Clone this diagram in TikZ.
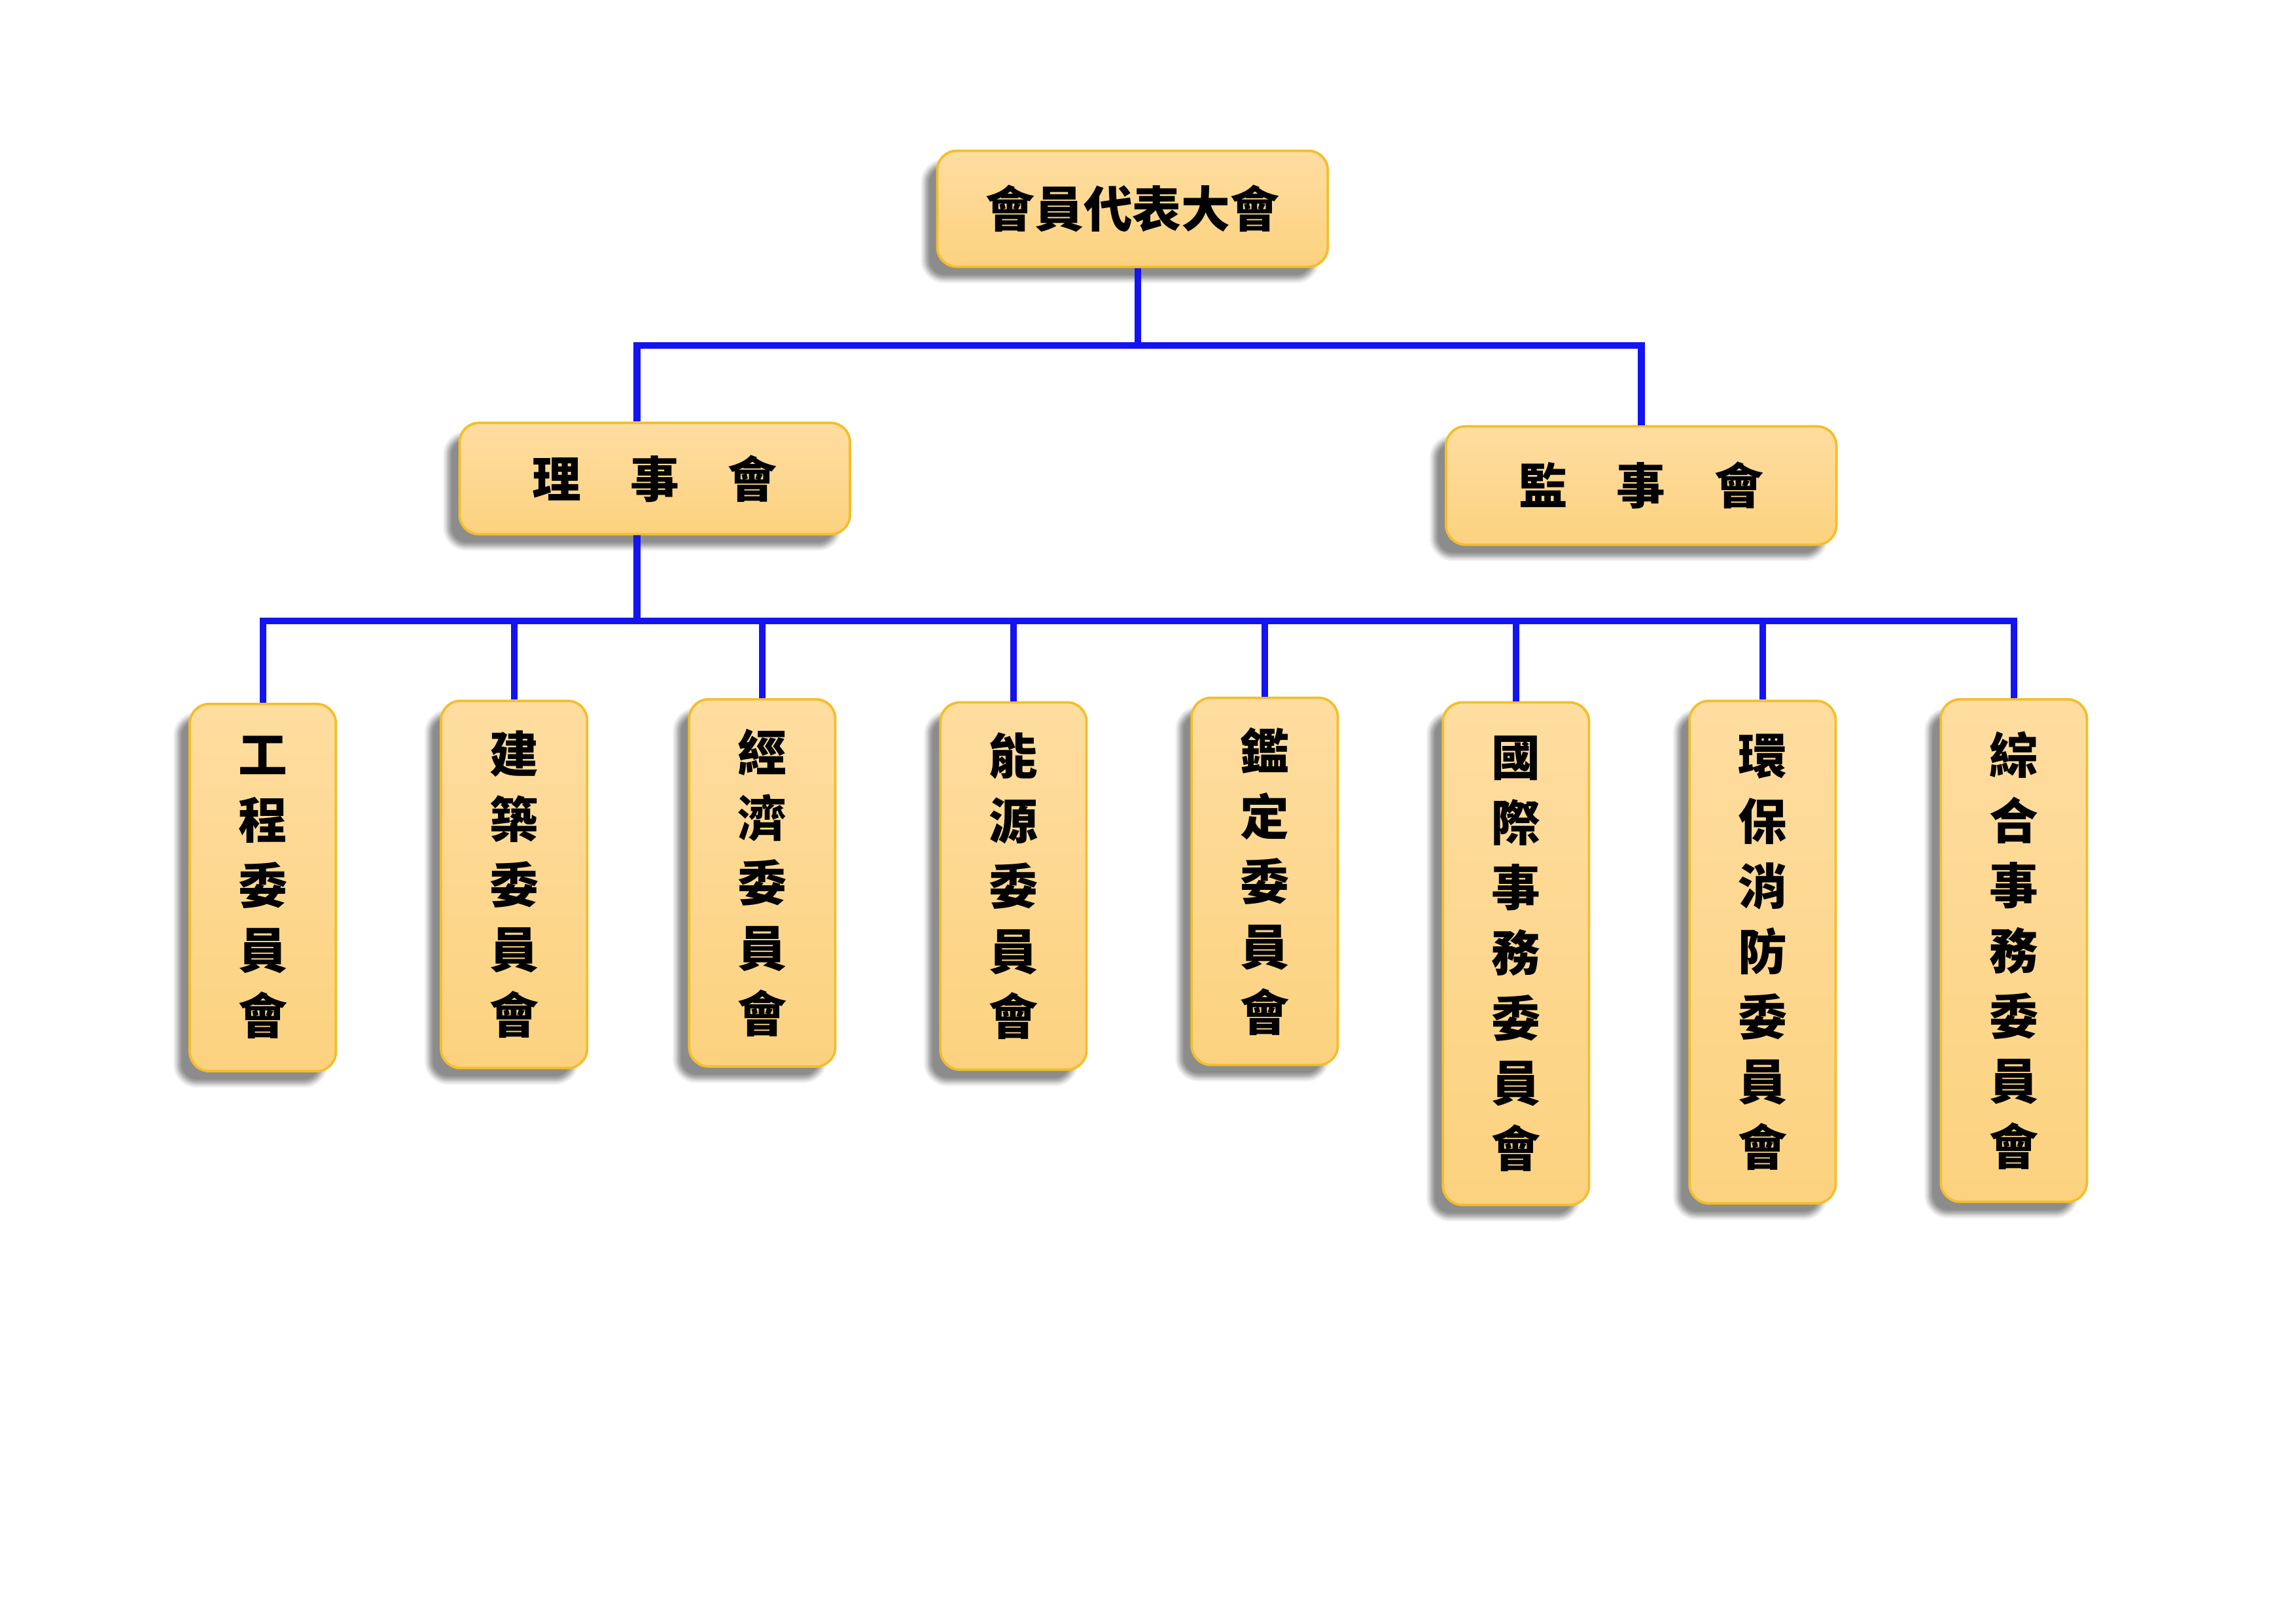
\documentclass[tikz,border=0pt]{standalone}
\usepackage{fontspec}
\newfontfamily\cjk{Noto Sans CJK TC}
\usetikzlibrary{shadows.blur}
\definecolor{boxtop}{HTML}{FEDDA0}
\definecolor{boxbot}{HTML}{FCD27F}
\definecolor{boxline}{HTML}{F4BE2A}
\definecolor{linkblue}{HTML}{1414F0}
\begin{document}
\begin{tikzpicture}[
    unit/.style={draw=boxline, line width=0.9pt, rounded corners=0.25cm,
      top color=boxtop, bottom color=boxbot, inner sep=0pt,
      blur shadow={shadow xshift=-1.6mm, shadow yshift=-1.6mm, shadow blur steps=6, shadow opacity=45},
      font=\cjk\bfseries\fontsize{18}{24}\selectfont},
    wide/.style={unit, minimum width=5.05cm, minimum height=1.5cm},
    tall/.style={unit, anchor=north, minimum width=1.89cm, align=center},
    link/.style={draw=linkblue, line width=2.5pt}]
  \useasboundingbox (0,0) rectangle (29.7,-21);
  % top levels
  \node[wide] (dahui) at (14.65,-2.70) {會員代表大會};
  \node[wide, minimum height=1.44cm] (lishi) at (8.47,-6.19) {理　事　會};
  \node[wide, minimum height=1.53cm] (jianshi) at (21.23,-6.28) {監　事　會};

  % committees
  \node[tall, minimum height=4.75cm] (c1) at (3.40,-9.09) {工\\程\\委\\員\\會};
  \node[tall, minimum height=4.75cm] (c2) at (6.65,-9.05) {建\\築\\委\\員\\會};
  \node[tall, minimum height=4.75cm] (c3) at (9.86,-9.03) {經\\濟\\委\\員\\會};
  \node[tall, minimum height=4.75cm] (c4) at (13.11,-9.07) {能\\源\\委\\員\\會};
  \node[tall, minimum height=4.75cm] (c5) at (16.36,-9.01) {鑑\\定\\委\\員\\會};
  \node[tall, minimum height=6.5cm] (c6) at (19.61,-9.07) {國\\際\\事\\務\\委\\員\\會};
  \node[tall, minimum height=6.5cm] (c7) at (22.80,-9.05) {環\\保\\消\\防\\委\\員\\會};
  \node[tall, minimum height=6.5cm] (c8) at (26.05,-9.03) {綜\\合\\事\\務\\委\\員\\會};

  % connectors
  \coordinate (bar1) at (0,-4.47);
  \coordinate (bar2) at (0,-8.03);
  \draw[link] ([xshift=0.07cm]dahui.south) -- ([xshift=0.07cm]dahui.south |- bar1);
  \draw[link] ([xshift=-0.23cm]lishi.north) |- (dahui.south |- bar1) -| (jianshi.north);
  \draw[link] ([xshift=-0.23cm]lishi.south) -- ([xshift=-0.23cm]lishi.south |- bar2);
  \draw[link] (c1.north) -- (c1.north |- bar2) -| (c8.north);
  \foreach \i in {2,...,7}
    \draw[link] (c\i.north) -- (c\i.north |- bar2);
\end{tikzpicture}
\end{document}
